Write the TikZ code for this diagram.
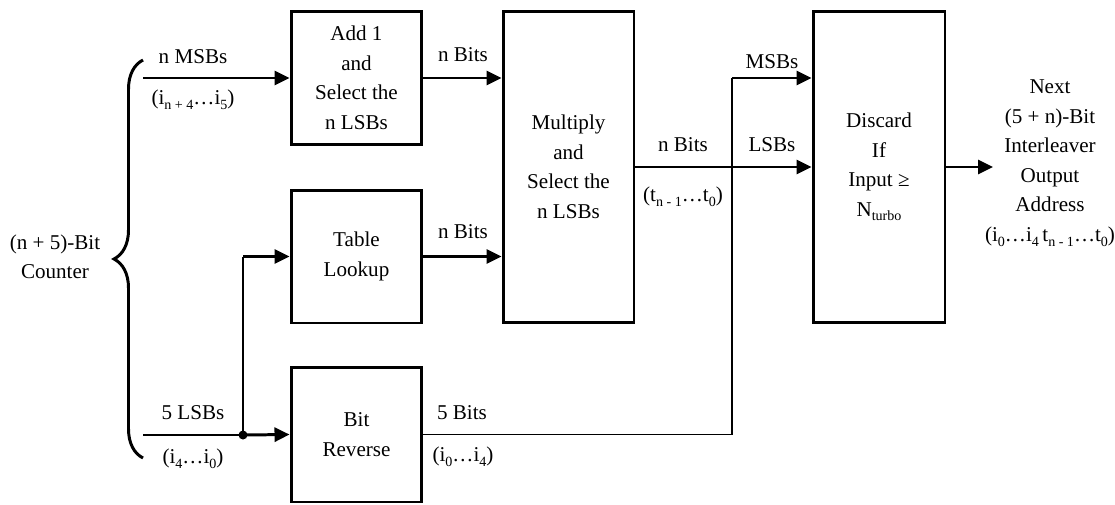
\documentclass[tikz,border=0pt]{standalone}
\usepackage{fontspec}
\setmainfont{Liberation Serif}
\usetikzlibrary{arrows.meta,decorations.pathreplacing}
\newcommand{\lo}[1]{\raisebox{-0.5ex}{\footnotesize #1}}
\begin{document}
\begin{tikzpicture}[x=0.02cm,y=-0.02cm,
    font=\fontsize{12}{16.8}\selectfont,
    blk/.style={draw,line width=1.7pt,align=center,inner sep=0pt,minimum width=2.62cm},
    arr/.style={line width=1.7pt,-{Triangle[length=0.3cm,width=0.28cm]}},
    wire/.style={line width=0.8pt}]
    \useasboundingbox (0,0) rectangle (1115,504);
    % blocks
    \node[blk,minimum height=2.68cm] (add) at (356.5,78) {Add 1\\and\\Select the\\n LSBs};
    \node[blk,minimum height=2.66cm] (tab) at (356.5,256.5) {Table\\Lookup};
    \node[blk,minimum height=2.7cm] (rev) at (356.5,434.5) {Bit\\Reverse};
    \node[blk,minimum height=6.24cm] (mul) at (568.5,167) {Multiply\\and\\Select the\\n LSBs};
    \node[blk,minimum height=6.24cm,minimum width=2.64cm] (dis) at (879,167) {Discard\\If\\Input ≥\\N\lo{turbo}};
    % counter and its brace
    \node[align=center] (cnt) at (55,257) {(n + 5)-Bit\\Counter};
    \draw[line width=1.7pt,decorate,decoration={brace,amplitude=0.58cm}] (143,458) -- (143,60);
    \coordinate (msb) at (143,78);
    \coordinate (lsb) at (143,435);
    \coordinate (split) at (243,435);
    \coordinate (up) at (732,78);
    \coordinate (out) at (993,167);
    % connectors
    \draw[arr] (msb) -- (add.west);
    \draw[wire] (lsb) -- (split);
    \draw[arr] (split) -- (rev.west);
    \draw[wire] (split) -- (split |- tab.west);
    \draw[arr] (split |- tab.west) -- (tab.west);
    \fill (split) circle (0.09cm);
    \draw[arr] (add.east) -- (add.east -| mul.west);
    \draw[arr] (tab.east) -- (tab.east -| mul.west);
    \draw[arr] (mul.east) -- (dis.west);
    \draw[wire] (rev.east) -| (up);
    \draw[arr] (up) -- (up -| dis.west);
    \draw[arr] (dis.east) -- (out);
    % labels
    \node (l1) at (193,57) {n MSBs};
    \node (l2) at (193,100) {(i\lo{n + 4}\dots i\lo{5})};
    \node (l3) at (193,413) {5 LSBs};
    \node (l4) at (193,459) {(i\lo{4}\dots i\lo{0})};
    \node (l5) at (463,55) {n Bits};
    \node (l6) at (463,232) {n Bits};
    \node (l7) at (683,145) {n Bits};
    \node (l8) at (683,197) {(t\lo{n - 1}\dots t\lo{0})};
    \node (l9) at (462,413) {5 Bits};
    \node (l10) at (463,457) {(i\lo{0}\dots i\lo{4})};
    \node (l11) at (772,62) {MSBs};
    \node (l12) at (772,145) {LSBs};
    \node[align=center] (res) at (1050,163) {Next\\(5 + n)-Bit\\Interleaver\\Output\\Address\\(i\lo{0}\dots i\lo{4}\,t\lo{n - 1}\dots t\lo{0})};
\end{tikzpicture}
\end{document}
